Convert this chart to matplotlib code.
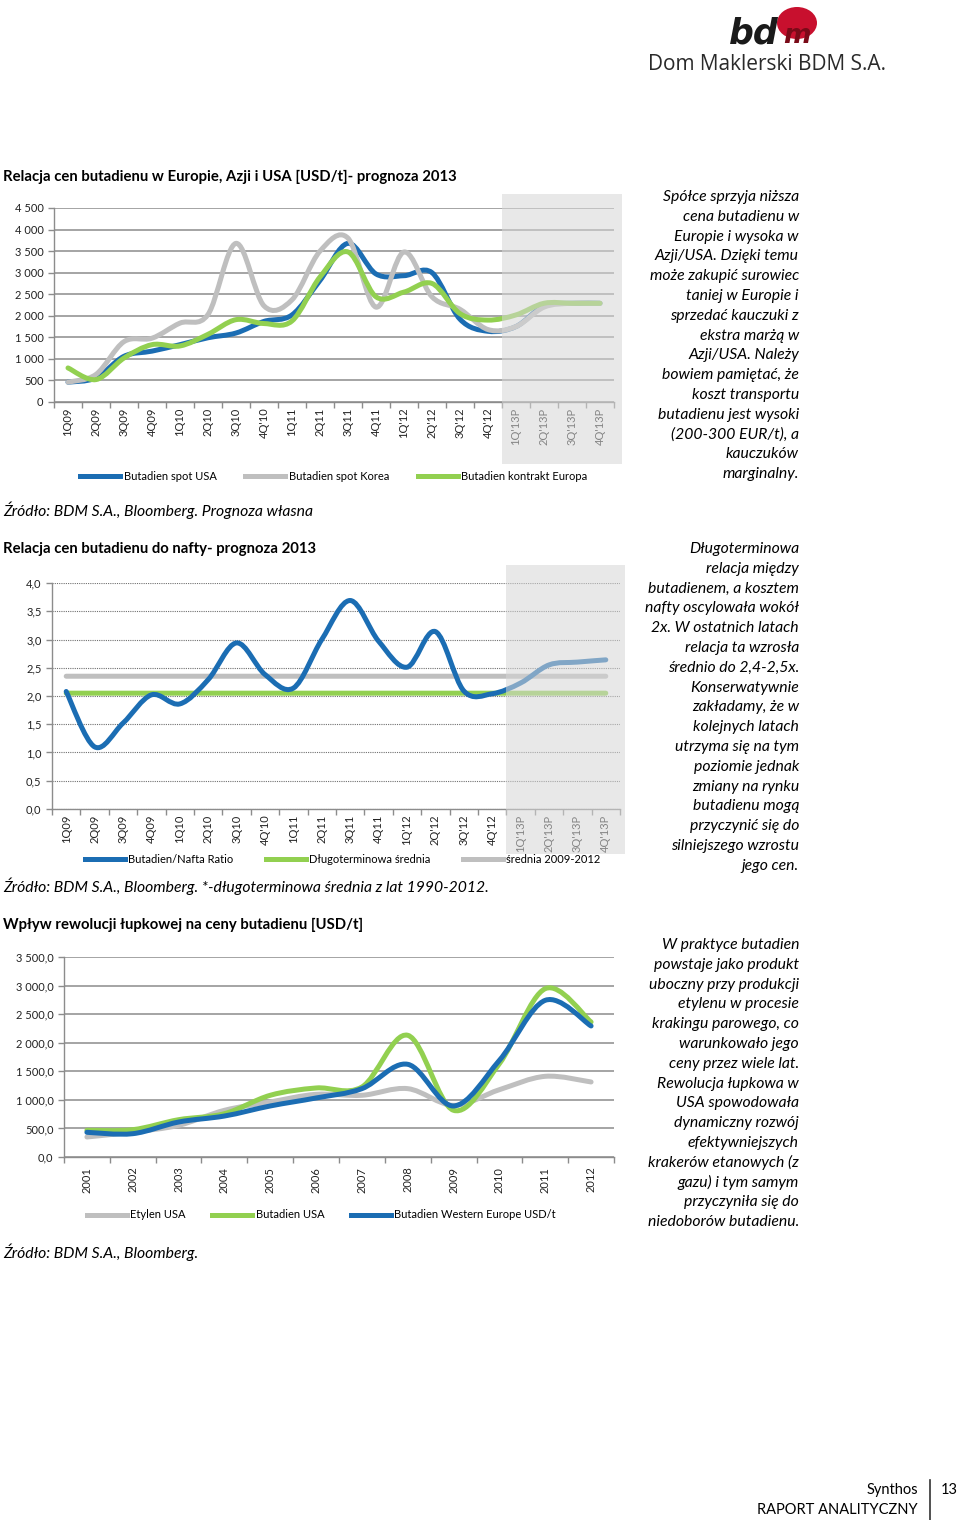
import matplotlib.pyplot as plt
from matplotlib.path import Path
from matplotlib.patches import PathPatch, Rectangle, Ellipse
from matplotlib.lines import Line2D
from matplotlib.ticker import FuncFormatter, MultipleLocator, FixedLocator
import matplotlib.transforms as mtransforms

plt.rcParams['font.family'] = ['Lato', 'DejaVu Sans']

W, H = 960, 1520

# --- dane: wykres 1 ---
kwartaly = ['1Q09', '2Q09', '3Q09', '4Q09', '1Q10', '2Q10', '3Q10', "4Q'10",
            '1Q11', '2Q11', '3Q11', '4Q11', "1Q'12", "2Q'12", "3Q'12", "4Q'12",
            "1Q'13P", "2Q'13P", "3Q'13P", "4Q'13P"]
spot_usa = [460, 560, 1060, 1180, 1330, 1490, 1600, 1870, 2020, 2820, 3680, 2970,
            2930, 3000, 1920, 1640, 1750, 2230, 2290, 2290]
spot_korea = [460, 640, 1400, 1480, 1830, 2030, 3680, 2230, 2370, 3500, 3800, 2200,
              3480, 2440, 2150, 1680, 1750, 2200, 2290, 2290]
kontrakt_europa = [790, 520, 1020, 1330, 1300, 1570, 1910, 1820, 1880, 2900, 3480, 2440,
                   2550, 2750, 2050, 1900, 2020, 2290, 2290, 2290]
prognoza_od = 16  # indeks 1Q'13P

# --- dane: wykres 2 ---
ratio = [2.08, 1.10, 1.52, 2.02, 1.86, 2.29, 2.94, 2.38, 2.14, 3.00, 3.69, 2.97,
         2.51, 3.14, 2.09, 2.04, 2.23, 2.55, 2.60, 2.64]
dlugoterm = [2.05] * 20
srednia_0912 = [2.35] * 20

# --- dane: wykres 3 ---
lata = ['2001', '2002', '2003', '2004', '2005', '2006', '2007', '2008', '2009', '2010', '2011', '2012']
etylen_usa = [350, 437, 554, 817, 963, 1097, 1080, 1196, 904, 1178, 1412, 1313]
butadien_usa = [467, 478, 653, 758, 1080, 1208, 1225, 2130, 817, 1634, 2946, 2363]
butadien_we = [432, 408, 612, 717, 893, 1033, 1196, 1622, 893, 1692, 2742, 2293]

NIEBIESKI = '#1b6db3'
SZARY = '#bfbfbf'
ZIELONY = '#92d050'
SIATKA = '#8c8c8c'


def gladka(xs, ys):
    # wygladzenie jak w Excelu (Catmull-Rom -> Bezier)
    pts = list(zip(xs, ys))
    verts = [pts[0]]
    codes = [Path.MOVETO]
    n = len(pts)
    for i in range(n - 1):
        p0 = pts[i - 1] if i > 0 else pts[i]
        p1 = pts[i]
        p2 = pts[i + 1]
        p3 = pts[i + 2] if i + 2 < n else pts[i + 1]
        c1 = (p1[0] + (p2[0] - p0[0]) / 6, p1[1] + (p2[1] - p0[1]) / 6)
        c2 = (p2[0] - (p3[0] - p1[0]) / 6, p2[1] - (p3[1] - p1[1]) / 6)
        verts += [c1, c2, p2]
        codes += [Path.CURVE4] * 3
    return Path(verts, codes)


def linia(ax, ys, kolor, z=3, lw=3.6):
    xs = list(range(len(ys)))
    ax.add_patch(PathPatch(gladka(xs, ys), fill=False, edgecolor=kolor, lw=lw,
                           capstyle='round', joinstyle='round', zorder=z))


def pudlo(x0, y0, x1, y1):
    return [x0 / W, 1 - y1 / H, (x1 - x0) / W, (y1 - y0) / H]


def tekst(x, y, s, **kw):
    fig.text(x / W, 1 - y / H, s, **kw)


def styl_osi(ax, n, grid_ls='-'):
    ax.set_xlim(-0.5, n - 0.5)
    for s in ['top', 'right']:
        ax.spines[s].set_visible(False)
    for s in ['left', 'bottom']:
        ax.spines[s].set_color(SIATKA)
        ax.spines[s].set_linewidth(1.0)
    ax.xaxis.set_major_locator(FixedLocator(list(range(n))))
    ax.xaxis.set_minor_locator(FixedLocator([i - 0.5 for i in range(n + 1)]))
    ax.tick_params(axis='x', which='major', length=0, pad=4, labelsize=8, labelcolor='#222222')
    ax.tick_params(axis='x', which='minor', length=4, color=SIATKA, width=1)
    ax.tick_params(axis='y', length=4, color=SIATKA, width=1, labelsize=8, labelcolor='#222222')
    if grid_ls == '-':
        ax.yaxis.grid(True, color=SIATKA, lw=1.1)
    else:
        ax.yaxis.grid(True, color='#707070', lw=0.8, ls=(0, (1, 1)))
    ax.set_axisbelow(True)


def cien(ax, start, n, y0, y1, x_ext):
    tr = mtransforms.blended_transform_factory(ax.transData, ax.transAxes)
    ax.add_patch(Rectangle((start - 0.5, y0), n - start + x_ext, y1 - y0, transform=tr,
                           facecolor='#d6d6d6', edgecolor='none', alpha=0.55,
                           clip_on=False, zorder=10))


fig = plt.figure(figsize=(W / 100, H / 100), dpi=100)
fig.patch.set_facecolor('white')

# ---------- logo ----------
fig.patches.append(Ellipse((797 / W, 1 - 23 / H), 40 / W, 32 / H, transform=fig.transFigure,
                           facecolor='#c8102e', edgecolor='none'))
tekst(729, 43, 'bd', fontsize=25, fontweight='bold', style='italic', color='#1a1a1a',
      va='baseline', family=['DejaVu Sans'])
tekst(783, 43, 'm', fontsize=19, fontweight='bold', style='italic', color='#7a0a18',
      va='baseline', family=['DejaVu Sans'])
tekst(648, 70, 'Dom Maklerski BDM S.A.', fontsize=15, color='#2a2a2a', va='baseline',
      family=['Open Sans', 'DejaVu Sans'])

# ---------- wykres 1 ----------
tekst(3, 177, 'Relacja cen butadienu w Europie, Azji i USA [USD/t]- prognoza 2013',
      fontsize=10.7, fontweight='bold', va='center')
ax1 = fig.add_axes(pudlo(54, 208, 614, 402))
styl_osi(ax1, 20)
ax1.set_ylim(0, 4500)
ax1.yaxis.set_major_locator(MultipleLocator(500))
ax1.yaxis.set_major_formatter(FuncFormatter(lambda v, p: f'{int(v):,}'.replace(',', ' ')))
ax1.set_xticks(range(20))
ax1.set_xticklabels(kwartaly, rotation=90)
linia(ax1, spot_usa, NIEBIESKI, 3)
linia(ax1, spot_korea, SZARY, 4)
linia(ax1, kontrakt_europa, ZIELONY, 5)
cien(ax1, prognoza_od, 20, -0.32, 1.07, 0.29)
h1 = [Line2D([], [], color=c, lw=3.6) for c in (NIEBIESKI, SZARY, ZIELONY)]
ax1.legend(h1, ['Butadien spot USA', 'Butadien spot Korea', 'Butadien kontrakt Europa'],
           loc='center', bbox_to_anchor=(0.500, -0.382), ncol=3, frameon=False, fontsize=8,
           handlelength=3.6, handletextpad=0.3, columnspacing=2.6)

tekst(3, 510, 'Źródło: BDM S.A., Bloomberg. Prognoza własna', fontsize=11.3, style='italic', va='center')

# ---------- wykres 2 ----------
tekst(3, 549, 'Relacja cen butadienu do nafty- prognoza 2013', fontsize=10.7, fontweight='bold', va='center')
ax2 = fig.add_axes(pudlo(52, 583, 620, 809))
styl_osi(ax2, 20, grid_ls=':')
ax2.set_ylim(0, 4.0)
ax2.yaxis.set_major_locator(MultipleLocator(0.5))
ax2.yaxis.set_major_formatter(FuncFormatter(lambda v, p: f'{v:.1f}'.replace('.', ',')))
ax2.set_xticks(range(20))
ax2.set_xticklabels(kwartaly, rotation=90)
linia(ax2, dlugoterm, ZIELONY, 3)
linia(ax2, srednia_0912, SZARY, 4)
linia(ax2, ratio, NIEBIESKI, 5)
cien(ax2, prognoza_od, 20, -0.2, 1.08, 0.18)
h2 = [Line2D([], [], color=c, lw=3.6) for c in (NIEBIESKI, ZIELONY, SZARY)]
ax2.legend(h2, ['Butadien/Nafta Ratio', 'Długoterminowa średnia', 'średnia 2009-2012'],
           loc='center', bbox_to_anchor=(0.512, -0.225), ncol=3, frameon=False, fontsize=8,
           handlelength=3.6, handletextpad=0.3, columnspacing=2.9)

tekst(3, 886, 'Źródło: BDM S.A., Bloomberg. *-długoterminowa średnia z lat 1990-2012.',
      fontsize=11.3, style='italic', va='center')

# ---------- wykres 3 ----------
tekst(3, 925, 'Wpływ rewolucji łupkowej na ceny butadienu [USD/t]', fontsize=10.7, fontweight='bold', va='center')
ax3 = fig.add_axes(pudlo(64, 957, 614, 1157))
styl_osi(ax3, 12)
ax3.set_ylim(0, 3500)
ax3.yaxis.set_major_locator(MultipleLocator(500))
ax3.yaxis.set_major_formatter(FuncFormatter(lambda v, p: f'{v:,.1f}'.replace(',', ' ').replace('.', ',')))
ax3.set_xticks(range(12))
ax3.set_xticklabels(lata, rotation=90)
ax3.tick_params(axis='x', which='major', pad=7)
linia(ax3, etylen_usa, SZARY, 3)
linia(ax3, butadien_usa, ZIELONY, 4)
linia(ax3, butadien_we, NIEBIESKI, 5)
h3 = [Line2D([], [], color=c, lw=3.6) for c in (SZARY, ZIELONY, NIEBIESKI)]
ax3.legend(h3, ['Etylen USA', 'Butadien USA', 'Butadien Western Europe USD/t'],
           loc='center', bbox_to_anchor=(0.468, -0.29), ncol=3, frameon=False, fontsize=8,
           handlelength=3.6, handletextpad=0.3, columnspacing=2.4)

tekst(3, 1252, 'Źródło: BDM S.A., Bloomberg.', fontsize=11.3, style='italic', va='center')

# ---------- teksty po prawej ----------
akapit1 = ['Spółce sprzyja niższa', 'cena butadienu w', 'Europie i wysoka w', 'Azji/USA. Dzięki temu',
           'może zakupić surowiec', 'taniej w Europie i', 'sprzedać kauczuki z', 'ekstra marżą w',
           'Azji/USA. Należy', 'bowiem pamiętać, że', 'koszt transportu', 'butadienu jest wysoki',
           '(200-300 EUR/t), a', 'kauczuków', 'marginalny.']
akapit2 = ['Długoterminowa', 'relacja między', 'butadienem, a kosztem', 'nafty oscylowała wokół',
           '2x. W ostatnich latach', 'relacja ta wzrosła', 'średnio do 2,4-2,5x.', 'Konserwatywnie',
           'zakładamy, że w', 'kolejnych latach', 'utrzyma się na tym', 'poziomie jednak',
           'zmiany na rynku', 'butadienu mogą', 'przyczynić się do', 'silniejszego wzrostu', 'jego cen.']
akapit3 = ['W praktyce butadien', 'powstaje jako produkt', 'uboczny przy produkcji', 'etylenu w procesie',
           'krakingu parowego, co', 'warunkowało jego', 'ceny przez wiele lat.', 'Rewolucja łupkowa w',
           'USA spowodowała', 'dynamiczny rozwój', 'efektywniejszych', 'krakerów etanowych (z',
           'gazu) i tym samym', 'przyczyniła się do', 'niedoborów butadienu.']
for start, akapit in ((197, akapit1), (549, akapit2), (945, akapit3)):
    for i, wiersz in enumerate(akapit):
        tekst(799, start + i * 19.8, wiersz, fontsize=11.3, style='italic', ha='right', va='center')

# ---------- stopka ----------
tekst(918, 1490, 'Synthos', fontsize=10.5, ha='right', va='center')
tekst(918, 1510, 'RAPORT ANALITYCZNY', fontsize=10.5, ha='right', va='center')
tekst(941, 1490, '13', fontsize=10.5, ha='left', va='center')
fig.add_artist(Line2D([930 / W, 930 / W], [1 - 1480 / H, 1 - 1520 / H], color='#333333', lw=1.2))

fig.savefig('out.png', dpi=100, facecolor='white')
